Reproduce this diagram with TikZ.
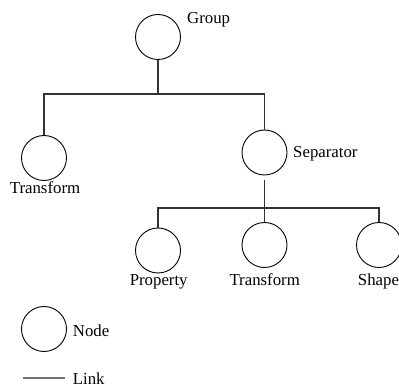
\documentclass[tikz,border=0pt]{standalone}
\usepackage{fontspec}
\setmainfont{Liberation Serif}
\begin{document}
\begin{tikzpicture}[x=1pt,y=-1pt,
  treenode/.style={draw=black,circle,line width=0.9pt,minimum size=45pt,inner sep=0pt},
  label text/.style={font=\fontsize{16.8}{19}\selectfont,inner sep=0pt},
  link/.style={draw=black!80,line width=1.1pt},
  legendlink/.style={draw=black!55,line width=1.5pt}]
\useasboundingbox (0,0) rectangle (399,387);

% tree nodes
\node[treenode] (group) at (158,37) {};
\node[treenode] (xfA)   at (44,158) {};
\node[treenode] (sep)   at (264.5,152.5) {};
\node[treenode] (prop)  at (158,250.5) {};
\node[treenode] (xfB)   at (264.5,245) {};
\node[treenode] (shape) at (379,245) {};

% labels
\node[label text,anchor=base west] (lgroup) at (187,23.5) {Group};
\node[label text,anchor=base] (lxfA) at (45,194) {Transform};
\node[label text,anchor=base west] (lsep) at (293,158) {Separator};
\node[label text,anchor=base] (lprop) at (158.7,286) {Property};
\node[label text,anchor=base] (lxfB) at (264.7,286) {Transform};
\node[label text,anchor=base] (lshape) at (378.5,286) {Shape};

% bus lines
\coordinate (busA) at (158,94);
\coordinate (busB) at (264.5,208);

% links from Group
\draw[link] (group.south) -- (busA);
\draw[link] (xfA.north) |- (busA) -| (sep.north);

% links from Separator
\draw[link] ([yshift=-5pt]sep.south) -- (xfB.north);
\draw[link] (prop.north) |- (busB) -| (shape.north);

% legend
\node[treenode] (legnode) at (44,329) {};
\node[label text,anchor=base west] (lnode) at (72.7,336.5) {Node};
\coordinate (legA) at (23,378);
\coordinate (legB) at (65,378);
\draw[legendlink] (legA) -- (legB);
\node[label text,anchor=base west] (llink) at (72.7,384.5) {Link};
\end{tikzpicture}
\end{document}
